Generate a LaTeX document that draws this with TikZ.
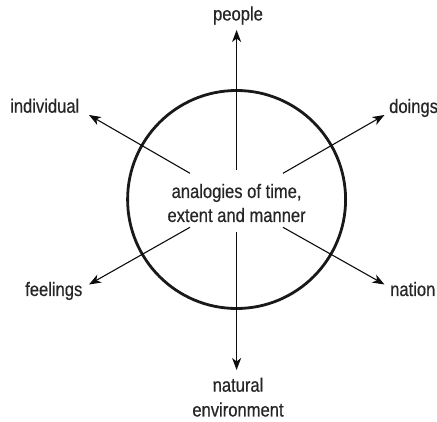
\documentclass[tikz,border=0pt]{standalone}
\usepackage{fontspec}
\newfontfamily\lblfont{Liberation Sans}[FakeStretch=0.85,FakeBold=0.5]
\usetikzlibrary{arrows.meta}
\begin{document}
\begin{tikzpicture}[x=1pt,y=-1pt,
  lbl/.style={font=\lblfont\fontsize{19.5}{24}\selectfont, inner sep=0pt, text=black!85},
  ray/.style={line width=1.1pt, -{Stealth[length=12pt,width=9pt,inset=3.5pt]}, black!95},
  ring/.style={circle, draw=black!90, line width=2.8pt, minimum size=218pt, inner sep=0pt}]
\useasboundingbox (0,0) rectangle (437,422);
\node[ring] (circ) at (236.6,199.5) {};
\node[lbl, align=center] (mid) at (236.6,203) {analogies of time,\\extent and manner};
% labels
\node[lbl, anchor=base] (people) at (238,20.5) {people};
\node[lbl, anchor=base west] (indiv) at (10,112.7) {individual};
\node[lbl, anchor=base west] (doings) at (389,113) {doings};
\node[lbl, anchor=base west] (feel) at (25,296) {feelings};
\node[lbl, anchor=base west] (nation) at (390,296) {nation};
\node[lbl, anchor=base] (nat) at (238,391.7) {natural};
\node[lbl, anchor=base] (env) at (238,416.5) {environment};
% ray start and end points
\coordinate (sU) at (236.6,170);   \coordinate (eU) at (236.6,30);
\coordinate (sD) at (236.6,231.7); \coordinate (eD) at (236.6,370);
\coordinate (sNW) at (190,173.3);  \coordinate (eNW) at (89,115);
\coordinate (sNE) at (283,173.3);  \coordinate (eNE) at (384.5,115);
\coordinate (sSW) at (190,227.3);  \coordinate (eSW) at (89,284.5);
\coordinate (sSE) at (283,227.3);  \coordinate (eSE) at (384.5,284.5);
\draw[ray] (sU) -- (eU);
\draw[ray] (sD) -- (eD);
\draw[ray] (sNW) -- (eNW);
\draw[ray] (sNE) -- (eNE);
\draw[ray] (sSW) -- (eSW);
\draw[ray] (sSE) -- (eSE);
\end{tikzpicture}
\end{document}
